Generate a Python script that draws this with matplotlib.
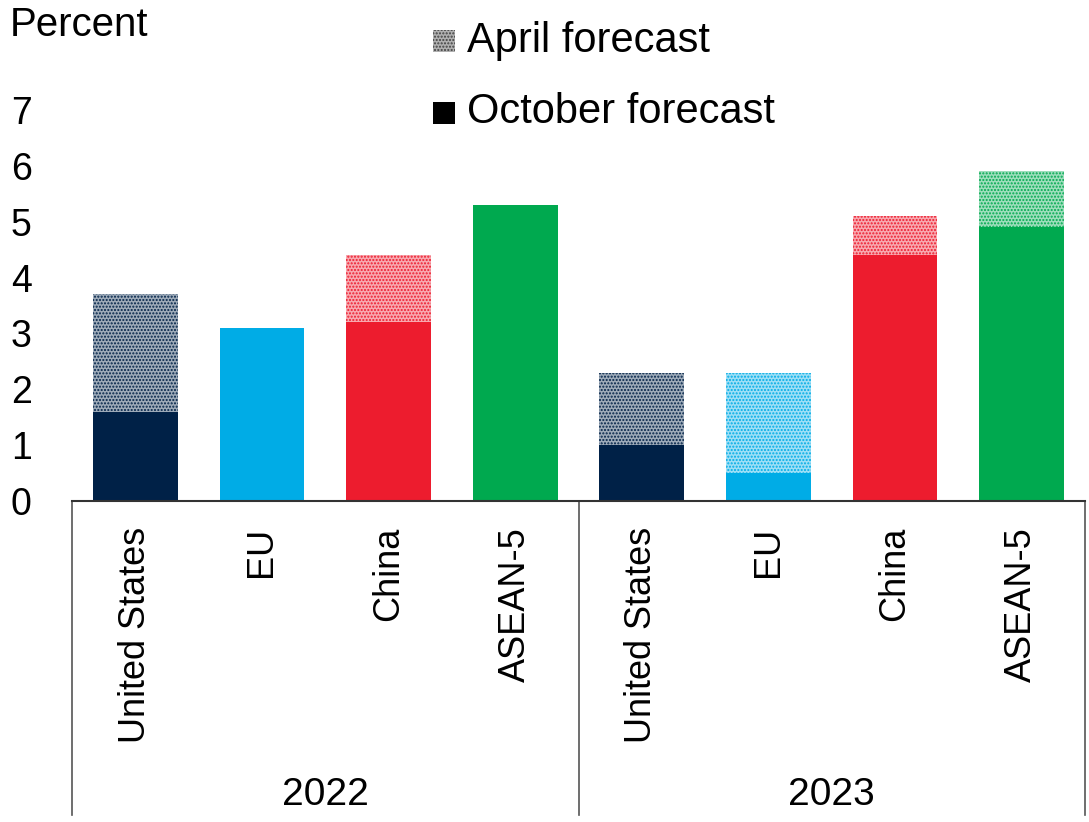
import matplotlib
matplotlib.use("Agg")
import matplotlib.pyplot as plt
from matplotlib.patches import Rectangle
from matplotlib.colors import to_rgb
from matplotlib.transforms import blended_transform_factory

plt.rcParams['font.family'] = ['Liberation Sans', 'DejaVu Sans']
plt.rcParams['hatch.linewidth'] = 1.0

years = ['2022', '2023']
regions = ['United States', 'EU', 'China', 'ASEAN-5']
october = [1.6, 3.1, 3.2, 5.3, 1.0, 0.5, 4.4, 4.9]
april = [3.7, 3.1, 4.4, 5.3, 2.3, 2.3, 5.1, 5.9]
region_colors = ['#002147', '#00ace6', '#ed1c2e', '#00a94f']


def lighten(c, amount=0.5):
    r, g, b = to_rgb(c)
    return (r + (1 - r) * amount, g + (1 - g) * amount, b + (1 - b) * amount)


fig = plt.figure(figsize=(10.89, 8.22), dpi=100)
ax = fig.add_axes([72 / 1089, 1 - 501 / 822, 1013 / 1089, 391 / 822])

labels = regions * len(years)
colors = region_colors * len(years)
xs = list(range(len(labels)))

for x, oct_v, apr_v, c in zip(xs, october, april, colors):
    ax.bar(x, oct_v, width=0.67, color=c, linewidth=0)
    # April forecast shown as the dotted part above the October value
    if apr_v > oct_v:
        ax.bar(x, apr_v - oct_v, bottom=oct_v, width=0.67,
               facecolor=lighten(c, 0.62), edgecolor=c, hatch='.....',
               linewidth=0)

ax.set_xlim(-0.5, len(labels) - 0.5)
ax.set_ylim(0, 7)
ax.set_yticks(range(0, 8))
ax.tick_params(axis='y', length=0, labelsize=27, pad=29)
ax.tick_params(axis='x', length=0, labelbottom=False)
for side in ['left', 'top', 'right']:
    ax.spines[side].set_visible(False)
ax.spines['bottom'].set_color('#333333')
ax.spines['bottom'].set_linewidth(1.5)

trans = blended_transform_factory(ax.transData, ax.transAxes)
for x, lab in zip(xs, labels):
    ax.text(x, -0.066, lab, rotation=90, ha='center', va='top',
            fontsize=26, transform=trans)

# group separators and year labels
bottom = -(815 - 501) / 391
for sep in [-0.5, 3.5, 7.5]:
    ax.plot([sep, sep], [0, bottom], color='#555555', lw=1.2,
            transform=trans, clip_on=False)
for i, yr in enumerate(years):
    ax.text(1.5 + 4 * i, -(795 - 501) / 391, yr, ha='center', va='center',
            fontsize=28, transform=trans)

fig.text(10 / 1089, 1 - 25 / 822, 'Percent', fontsize=29,
         ha='left', va='center')

# legend
fig.add_artist(Rectangle((433 / 1089, 1 - 52 / 822), 22 / 1089, 22 / 822,
                         transform=fig.transFigure, facecolor='#b0b0b0',
                         edgecolor='#404040', hatch='.....', linewidth=0))
fig.text(467 / 1089, 1 - 41 / 822, 'April forecast', fontsize=30,
         ha='left', va='center')
fig.add_artist(Rectangle((433 / 1089, 1 - 124 / 822), 22 / 1089, 22 / 822,
                         transform=fig.transFigure, facecolor='black',
                         linewidth=0))
fig.text(467 / 1089, 1 - 112 / 822, 'October forecast', fontsize=30,
         ha='left', va='center')

fig.savefig('out.png', dpi=100)
